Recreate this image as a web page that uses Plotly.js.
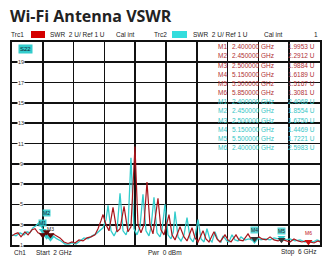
<!DOCTYPE html>
<html>
<head>
<meta charset="utf-8">
<script src="https://cdn.plot.ly/plotly-3.0.1.min.js"></script>
<style>html,body{margin:0;padding:0;background:#fff;}#chart{width:328px;height:259px;}</style>
</head>
<body>
<div id="chart"></div>
<script>
// Trace 1 (red) – frequency in GHz and SWR in U
var trc1Freq = [2.000,2.039,2.078,2.117,2.169,2.208,2.260,2.299,2.338,2.403,2.455,2.494,2.532,2.571,2.623,2.675,2.727,2.779,2.818,2.870,2.922,2.974,3.026,3.078,3.117,3.156,3.182,3.221,3.260,3.312,3.364,3.403,3.455,3.506,3.545,3.597,3.636,3.675,3.714,3.753,3.792,3.831,3.896,3.935,3.974,4.039,4.078,4.117,4.182,4.234,4.273,4.338,4.377,4.416,4.481,4.519,4.558,4.623,4.662,4.701,4.766,4.805,4.844,4.909,4.948,5.000,5.065,5.104,5.156,5.208,5.247,5.299,5.351,5.403,5.455,5.506,5.558,5.610,5.662,5.714,5.766,5.818,5.870,5.922,5.974,6.000];
var trc1Swr  = [1.9,2.1,2.2,1.8,2.3,2.0,2.5,2.6,2.2,2.0,2.3,2.0,2.1,1.9,1.7,1.3,1.15,1.3,1.2,1.5,1.4,1.7,1.8,2.0,2.6,3.4,4.0,3.0,2.4,4.7,2.3,2.6,4.8,2.3,2.8,10.7,3.0,2.2,3.0,7.2,3.0,2.1,5.6,2.5,2.0,4.0,2.0,1.5,2.8,1.8,1.4,2.7,1.7,1.3,2.4,1.6,1.3,2.3,1.6,1.3,2.0,1.5,1.3,2.0,1.5,1.4,2.1,1.6,1.6,1.8,1.6,1.5,1.8,1.5,1.4,1.55,1.4,1.3,1.6,1.4,1.3,1.4,1.3,1.2,1.4,1.3];

// Trace 2 (cyan)
var trc2Freq = [2.000,2.052,2.104,2.156,2.195,2.234,2.273,2.312,2.351,2.403,2.455,2.494,2.532,2.584,2.636,2.688,2.740,2.779,2.831,2.883,2.935,2.987,3.039,3.091,3.143,3.182,3.221,3.247,3.286,3.325,3.364,3.403,3.442,3.481,3.506,3.545,3.584,3.623,3.662,3.701,3.740,3.779,3.805,3.844,3.883,3.922,3.948,3.987,4.026,4.065,4.095,4.117,4.156,4.195,4.234,4.273,4.312,4.351,4.377,4.416,4.455,4.494,4.532,4.571,4.597,4.636,4.675,4.714,4.740,4.792,4.818,4.857,4.896,4.935,4.974,5.026,5.078,5.130,5.182,5.234,5.286,5.351,5.403,5.455,5.506,5.558,5.610,5.675,5.740,5.805,5.857,5.909,5.961,6.000];
var trc2Swr  = [2.0,1.9,2.2,2.0,2.3,2.2,2.7,2.9,3.2,2.6,1.9,1.7,1.9,1.6,1.4,1.1,1.1,1.2,1.1,1.4,1.7,1.6,1.9,2.1,2.4,2.7,3.5,4.9,2.4,1.9,2.5,6.1,2.4,2.0,2.6,9.6,2.6,2.0,2.8,6.0,2.4,1.9,2.7,5.7,2.2,1.8,2.5,5.0,2.0,1.6,2.3,4.3,1.8,1.4,2.0,3.7,1.7,1.3,1.9,3.5,1.6,1.3,2.6,1.5,1.3,2.3,1.5,1.3,1.9,1.4,1.3,2.0,1.5,1.4,1.8,1.5,1.6,1.45,1.7,1.5,1.6,1.5,1.7,1.6,1.72,1.5,1.6,1.4,1.5,1.3,1.4,1.3,1.5,1.4];

// Marker table
var mkNames = ["M1","M2","M3","M4","M5","M6"];
var mk1Freq = [2.40,2.45,2.50,5.15,5.50,5.85];
var mk1Text = ["2.400000 GHz","2.450000 GHz","2.500000 GHz","5.150000 GHz","5.500000 GHz","5.850000 GHz"];
var mk1Val  = ["1.9953 U","2.2912 U","1.9884 U","1.6189 U","1.5167 U","1.3081 U"];
var mk1Num  = [1.9953,2.2912,1.9884,1.6189,1.5167,1.3081];
var mk2Freq = [2.40,2.45,2.50,5.15,5.50];
var mk2Text = ["2.400000 GHz","2.450000 GHz","2.500000 GHz","5.150000 GHz","5.500000 GHz","2.400000 GHz"];
var mk2Val  = ["2.4068 U","1.8554 U","1.6750 U","1.4469 U","1.7221 U","2.5983 U"];
var mk2Num  = [2.4068,1.8554,1.6750,1.4469,1.7221];

var yTicks = [1,3,5,7,9,11,13,15,17,19];

var RED = "#a8151b", CYAN = "#33cccc", RED_T = "#b03035", CYAN_T = "#36c6c6";
var FONT = "Liberation Sans, Arial, sans-serif";

var data = [
  {x: trc2Freq, y: trc2Swr, type: "scatter", mode: "lines", line: {color: CYAN, width: 1.3}, hoverinfo: "skip"},
  {x: trc1Freq, y: trc1Swr, type: "scatter", mode: "lines", line: {color: RED, width: 1.2}, hoverinfo: "skip"},
  {x: mk2Freq, y: mk2Num, type: "scatter", mode: "markers", hoverinfo: "skip",
    marker: {symbol: "triangle-down", size: 7, color: CYAN, line: {width: 0}}},
  {x: mk1Freq, y: mk1Num, type: "scatter", mode: "markers", hoverinfo: "skip",
    marker: {symbol: "triangle-down", size: 7, color: ["#5a0a0a","#5a0a0a","#5a0a0a","#333","#333","#d01010"], line: {width: 0}}}
];

var ann = [];
var shapes = [];
function px2x(px){ return (px - 12) / 308; }
function py2y(py){ return (245 - py) / 203; }

// y tick labels inside
yTicks.forEach(function(v){
  ann.push({xref: "paper", yref: "y", x: px2x(21), y: v, text: String(v), showarrow: false,
    font: {family: FONT, size: 5.5, color: "#333"}, bgcolor: "#fff", borderpad: 0, xanchor: "center", yanchor: "middle"});
});

// header
var hdrY = py2y(34.5);
function hdr(px, t, anchor){
  ann.push({xref: "paper", yref: "paper", x: px2x(px), y: hdrY, text: t, showarrow: false,
    font: {family: FONT, size: 6.5, color: "#222"}, xanchor: anchor || "left", yanchor: "middle"});
}
hdr(9, "Trc1"); hdr(48, "SWR  2 U/ Ref 1 U"); hdr(114, "Cal int");
hdr(152, "Trc2"); hdr(191, "SWR  2 U/ Ref 1 U"); hdr(262, "Cal int"); hdr(320, "1", "right");
shapes.push({type: "rect", xref: "paper", yref: "paper", x0: px2x(31), x1: px2x(45), y0: py2y(38), y1: py2y(31), fillcolor: "#d40000", line: {width: 0}});
shapes.push({type: "rect", xref: "paper", yref: "paper", x0: px2x(172), x1: px2x(187), y0: py2y(38), y1: py2y(31), fillcolor: "#33dddd", line: {width: 0}});

// footer
var ftY = py2y(252);
function ft(px, t, anchor){
  ann.push({xref: "paper", yref: "paper", x: px2x(px), y: ftY, text: t, showarrow: false,
    font: {family: FONT, size: 6.5, color: "#222"}, xanchor: anchor, yanchor: "middle"});
}
ft(12, "Ch1", "left"); ft(34, "Start  2 GHz", "left"); ft(165, "Pwr  0 dBm", "center"); ft(318, "Stop  6 GHz", "right");

// S22 badge
ann.push({xref: "paper", yref: "paper", x: px2x(25), y: py2y(48.5), text: "S22", showarrow: false,
  font: {family: FONT, size: 6, color: "#123"}, bgcolor: "#33cccc", borderpad: 1, xanchor: "center", yanchor: "middle"});

// marker table
function row(i, name, f, v, col){
  var y = py2y(46.8 + 9.15 * i);
  ann.push({xref: "paper", yref: "paper", x: px2x(216), y: y, text: name, showarrow: false, font: {family: FONT, size: 6.5, color: col}, xanchor: "left", yanchor: "middle"});
  ann.push({xref: "paper", yref: "paper", x: px2x(230), y: y, text: f, showarrow: false, font: {family: FONT, size: 6.5, color: col}, xanchor: "left", yanchor: "middle"});
  ann.push({xref: "paper", yref: "paper", x: px2x(317), y: y, text: v, showarrow: false, font: {family: FONT, size: 6.5, color: col}, xanchor: "right", yanchor: "middle"});
}
for (var i = 0; i < 6; i++) row(i, mkNames[i], mk1Text[i], mk1Val[i], RED_T);
for (var j = 0; j < 6; j++) row(6 + j, mkNames[j], mk2Text[j], mk2Val[j], CYAN_T);

// marker labels above the triangles
function lbl(f, v, label, col, bg, ys){
  ann.push({x: f, y: v, xref: "x", yref: "y", text: label, showarrow: false, font: {family: FONT, size: 5, color: col},
    bgcolor: bg, borderpad: 0, xanchor: "center", yanchor: "bottom", yshift: ys});
}
lbl(mk2Freq[0], mk2Num[0], "M1", "#123", "rgba(51,204,204,0.9)", 4);
lbl(mk2Freq[1], mk2Num[1], "M2", "#123", "rgba(51,204,204,0.9)", 19);
lbl(mk2Freq[2], mk2Num[2], "M3", "#222", "rgba(0,0,0,0)", 5);
lbl(mk1Freq[3], mk1Num[3], "M4", "#222", "rgba(51,204,204,0.8)", 5);
lbl(mk1Freq[4], mk1Num[4], "M5", "#222", "rgba(51,204,204,0.8)", 5);
lbl(mk1Freq[5], mk1Num[5], "M6", "#c01010", "rgba(0,0,0,0)", 5);

var layout = {
  width: 328, height: 259,
  margin: {l: 12, r: 8, t: 42, b: 14, pad: 0},
  paper_bgcolor: "#fff", plot_bgcolor: "#fff",
  showlegend: false,
  title: {text: "<b>Wi-Fi Antenna VSWR</b>", x: 10/328, xanchor: "left", y: 1 - 16/259, yanchor: "middle", yref: "container",
    font: {family: "Open Sans, sans-serif", size: 16, color: "#222"}},
  xaxis: {range: [2, 6], tick0: 2, dtick: 0.4, showgrid: true, gridcolor: "#111", gridwidth: 1.7,
    showticklabels: false, ticks: "", zeroline: false, showline: true, mirror: true, linecolor: "#111", linewidth: 1.8, fixedrange: true},
  yaxis: {range: [1, 21], tick0: 1, dtick: 2, showgrid: true, gridcolor: "#111", gridwidth: 1.7,
    showticklabels: false, ticks: "", zeroline: false, showline: true, mirror: true, linecolor: "#111", linewidth: 1.8, fixedrange: true},
  annotations: ann,
  shapes: shapes
};

Plotly.newPlot("chart", data, layout, {displayModeBar: false, staticPlot: true});
</script>
</body>
</html>
